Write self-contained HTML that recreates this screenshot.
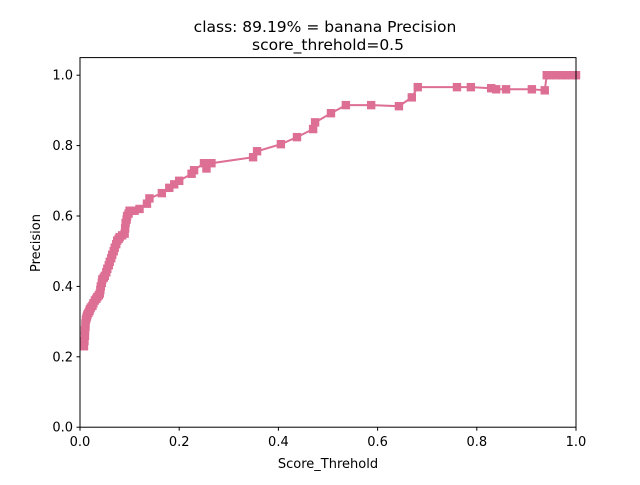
<!DOCTYPE html>
<html><head><meta charset="utf-8"><style>
body{margin:0;background:#fff}
svg text{font-family:"DejaVu Sans","Liberation Sans",sans-serif;fill:#000}
</style></head><body>
<svg id="chart" width="640" height="480" viewBox="0 0 640 480">
<rect width="640" height="480" fill="#fff"/>
<text x="325" y="32" text-anchor="middle" font-size="15.5">class: 89.19% = banana Precision</text>
<text x="328" y="50" text-anchor="middle" font-size="15.5">score_threhold=0.5</text>
<g id="marks"></g>
<rect x="80" y="57.6" width="496" height="369.6" fill="none" stroke="#000" stroke-width="1"/>
<g id="axes"></g>
<text x="328" y="468" text-anchor="middle" font-size="13">Score_Threhold</text>
<text x="40" y="243" text-anchor="middle" font-size="13" transform="rotate(-90 40 243)">Precision</text>
</svg>
<script>
const xTicks=[0,0.2,0.4,0.6,0.8,1.0];
const xTickLabels=["0.0","0.2","0.4","0.6","0.8","1.0"];
const yTicks=[0,0.2,0.4,0.6,0.8,1.0];
const yTickLabels=["0.0","0.2","0.4","0.6","0.8","1.0"];
const scores=[0.008,0.009,0.01,0.01,0.011,0.011,0.012,0.013,0.014,0.015,0.017,0.019,0.02,0.022,0.025,0.027,0.03,0.033,0.035,0.038,0.04,0.041,0.042,0.044,0.045,0.048,0.05,0.053,0.055,0.058,0.06,0.063,0.065,0.068,0.07,0.073,0.075,0.078,0.08,0.085,0.09,0.091,0.092,0.094,0.095,0.098,0.10,0.105,0.11,0.12,0.135,0.14,0.165,0.18,0.19,0.20,0.225,0.23,0.25,0.255,0.265,0.349,0.357,0.405,0.4375,0.47,0.474,0.506,0.536,0.587,0.643,0.669,0.681,0.760,0.788,0.829,0.839,0.859,0.911,0.937,0.941,0.95,0.96,0.97,0.98,0.99,1.0];
const precision=[0.23,0.245,0.26,0.275,0.285,0.295,0.305,0.31,0.315,0.32,0.325,0.33,0.335,0.34,0.345,0.352,0.36,0.365,0.37,0.375,0.38,0.39,0.40,0.41,0.42,0.425,0.43,0.44,0.45,0.46,0.47,0.48,0.49,0.50,0.51,0.52,0.53,0.535,0.54,0.545,0.55,0.565,0.58,0.59,0.60,0.607,0.615,0.615,0.615,0.62,0.635,0.65,0.665,0.68,0.69,0.70,0.72,0.73,0.75,0.735,0.75,0.767,0.784,0.804,0.824,0.847,0.866,0.892,0.915,0.915,0.912,0.937,0.966,0.966,0.966,0.963,0.96,0.96,0.96,0.957,1.0,1.0,1.0,1.0,1.0,1.0,1.0];
const NS="http://www.w3.org/2000/svg";
const X=v=>80+v*496, Y=v=>427.2-v*352;
const marks=document.getElementById('marks'), axes=document.getElementById('axes');
const pts=scores.map((s,i)=>X(s)+','+Y(precision[i])).join(' ');
const line=document.createElementNS(NS,'polyline');
line.setAttribute('points',pts);line.setAttribute('fill','none');line.setAttribute('stroke','#dd6e94');line.setAttribute('stroke-width','2');


marks.appendChild(line);
scores.forEach((s,i)=>{const r=document.createElementNS(NS,'rect');
r.setAttribute('x',X(s)-4.2);r.setAttribute('y',Y(precision[i])-4.2);r.setAttribute('width',8.4);r.setAttribute('height',8.4);r.setAttribute('fill','#dd6e94');


marks.appendChild(r);});
xTicks.forEach((t,i)=>{const l=document.createElementNS(NS,'line');
l.setAttribute('x1',X(t));l.setAttribute('x2',X(t));l.setAttribute('y1',427.2);l.setAttribute('y2',430.7);l.setAttribute('stroke','#000');


axes.appendChild(l);
const tx=document.createElementNS(NS,'text');tx.setAttribute('x',X(t));tx.setAttribute('y',446);tx.setAttribute('text-anchor','middle');tx.setAttribute('font-size','13');tx.textContent=xTickLabels[i];


axes.appendChild(tx);});
yTicks.forEach((t,i)=>{const l=document.createElementNS(NS,'line');
l.setAttribute('x1',76.5);l.setAttribute('x2',80);l.setAttribute('y1',Y(t));l.setAttribute('y2',Y(t));l.setAttribute('stroke','#000');


axes.appendChild(l);
const tx=document.createElementNS(NS,'text');tx.setAttribute('x',73);tx.setAttribute('y',Y(t)+4.5);tx.setAttribute('text-anchor','end');tx.setAttribute('font-size','13');tx.textContent=yTickLabels[i];


axes.appendChild(tx);});
</script>
</body></html>
